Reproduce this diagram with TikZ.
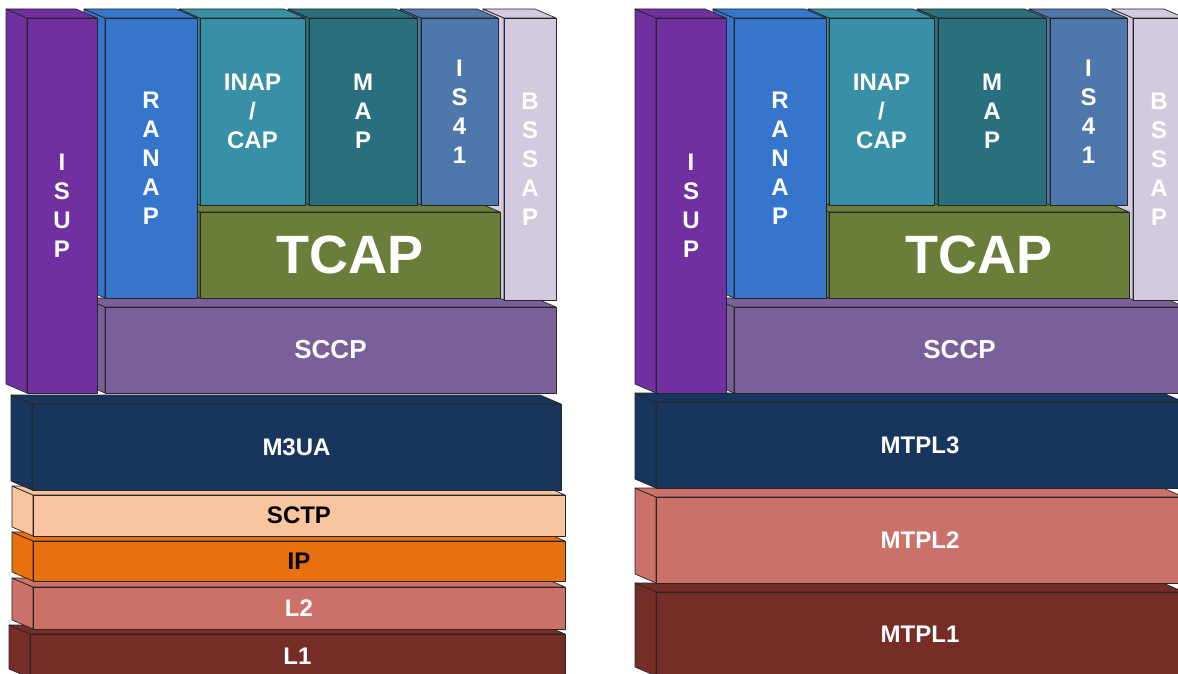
\documentclass[tikz,border=0pt]{standalone}
\usepackage{fontspec}
\setmainfont{Liberation Sans}

\definecolor{cIsup}{HTML}{7030A0}
\definecolor{cRanap}{HTML}{3575CC}
\definecolor{cInap}{HTML}{3890A6}
\definecolor{cMap}{HTML}{2A6F7E}
\definecolor{cIsfo}{HTML}{4E78AC}
\definecolor{cBssap}{HTML}{D3CAE0}
\definecolor{cTcap}{HTML}{6A7E3A}
\definecolor{cSccp}{HTML}{79609A}
\definecolor{cNavy}{HTML}{18365D}
\definecolor{cSctp}{HTML}{F8C59E}
\definecolor{cIp}{HTML}{E8700E}
\definecolor{cLtwo}{HTML}{CC716A}
\definecolor{cLone}{HTML}{762D28}

% One oblique block: side face, top face, front face and its label.
% #1 label options, #2 name, #3 x1, #4 y1, #5 x2, #6 y2, #7 colour, #8 text
\newcommand\layerbox[8][]{%
  \filldraw[face,fill=#7] (#3,#4) -- (#3-21,#4-9) -- (#3-21,#6-9) -- (#3,#6) -- cycle;
  \filldraw[face,fill=#7] (#3,#4) -- (#3-21,#4-9) -- (#5-21,#4-9) -- (#5,#4) -- cycle;
  \filldraw[face,fill=#7] (#3,#4) rectangle (#5,#6);
  \node[lbl,#1] (#2) at ({(#3+#5)/2},{(#4+#6)/2}) {#8};}

% The upper protocol group, drawn back to front.
\newcommand\upperstack[1]{%
  \layerbox[font=\fontsize{26}{29}\selectfont\bfseries]{#1sccp}{105}{307}{556}{393}{cSccp}{SCCP}
  \layerbox{#1bssap}{504}{18}{556}{300}{cBssap}{B\\S\\S\\A\\P}
  \layerbox[font=\fontsize{54}{60}\selectfont\bfseries]{#1tcap}{200}{212}{500}{298}{cTcap}{TCAP}
  \layerbox{#1isfo}{421}{18}{498}{205}{cIsfo}{I\\S\\4\\1}
  \layerbox{#1map}{309}{18}{417}{205}{cMap}{M\\A\\P}
  \layerbox{#1inap}{200}{18}{305}{205}{cInap}{INAP\\/\\CAP}
  \layerbox{#1ranap}{105}{18}{197}{298}{cRanap}{R\\A\\N\\A\\P}
  \layerbox{#1isup}{27}{18}{97}{393}{cIsup}{I\\S\\U\\P}}

\begin{document}
\begin{tikzpicture}[x=1pt,y=-1pt,
  face/.style={draw=black!85,line width=0.7pt,line join=round},
  lbl/.style={text=white,font=\fontsize{24}{29}\selectfont\bfseries,
    align=center,inner sep=0pt},
  darktext/.style={text=black}]
\useasboundingbox (0,0) rectangle (1178,674);
\clip (0,0) rectangle (1178,674);

% SIGTRAN stack (left)
\layerbox{lone}{30}{634}{565}{678}{cLone}{L1}
\layerbox{ltwo}{33}{587}{565}{629}{cLtwo}{L2}
\layerbox[darktext]{ip}{33}{541}{565}{581}{cIp}{IP}
\layerbox[darktext]{sctp}{33}{495}{565}{536}{cSctp}{SCTP}
\layerbox{mthree}{32}{404}{561}{490}{cNavy}{M3UA}
\upperstack{a}

% SS7 stack (right)
\layerbox{mtpone}{656}{592}{1184}{676}{cLone}{MTPL1}
\layerbox{mtptwo}{656}{497}{1184}{583}{cLtwo}{MTPL2}
\layerbox{mtpthree}{656}{402}{1184}{488}{cNavy}{MTPL3}
\begin{scope}[xshift=629pt]
\upperstack{b}
\end{scope}
\end{tikzpicture}
\end{document}
